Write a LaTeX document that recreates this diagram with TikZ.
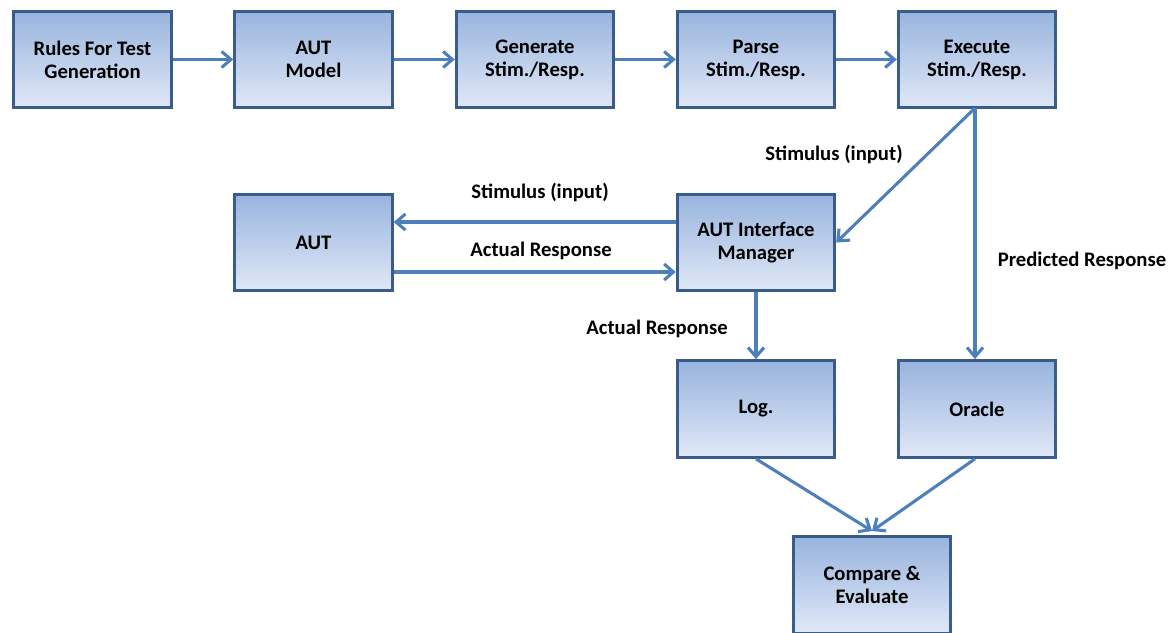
\documentclass[tikz,border=0pt]{standalone}
\usepackage{fontspec}
\setmainfont{Carlito}
\usetikzlibrary{arrows.meta,shadows}
\definecolor{boxtop}{RGB}{152,180,222}
\definecolor{boxbot}{RGB}{224,232,246}
\definecolor{boxline}{RGB}{58,92,138}
\definecolor{flow}{RGB}{76,127,188}
\tikzset{
  stage/.style={draw=boxline, line width=2.3pt, top color=boxtop, bottom color=boxbot,
    minimum width=118pt, minimum height=72.5pt, align=center,
    font=\fontsize{15.5}{17.3}\selectfont\bfseries,
    drop shadow={shadow xshift=1.2pt, shadow yshift=-1.2pt, opacity=0.25}},
  link/.style={draw=flow, line width=2.3pt, -{Straight Barb[length=7pt,width=12pt,line width=2.3pt]}},
  tag/.style={font=\fontsize{15.5}{17}\selectfont\bfseries, inner sep=0pt}
}
\begin{document}
\begin{tikzpicture}[x=0.75pt,y=-0.75pt]
\useasboundingbox (0,0) rectangle (1173,632);
% top row
\node[stage] (rules) at (92.5,59.5) {Rules For Test\\Generation};
\node[stage] (model) at (313.5,59.5) {AUT\\Model};
\node[stage] (gen)   at (535,59.5)  {Generate\\Stim./Resp.};
\node[stage] (parse) at (756,59.5)  {Parse\\Stim./Resp.};
\node[stage] (exec)  at (977,59.5)  {Execute\\Stim./Resp.};
% middle row
\node[stage] (aut) at (313.5,242.5) {AUT};
\node[stage] (aim) at (756,242.5)   {AUT Interface\\Manager};
% lower rows
\node[stage] (log)    at (756,409) {Log.};
\node[stage] (oracle) at (977,409) {Oracle};
\node[stage] (cmp)    at (872,585) {Compare \&\\Evaluate};
% helper levels for the two horizontal links
\coordinate (upper) at (0,222);
\coordinate (lower) at (0,272);
\coordinate (exfoot) at (975,108);
\coordinate (meet) at (872,531);
% pipeline
\draw[link] (rules) -- (model);
\draw[link] (model) -- (gen);
\draw[link] (gen) -- (parse);
\draw[link] (parse) -- (exec);
\draw[link] (exfoot) -- (aim.east);
\draw[link] (exfoot) -- (exfoot |- oracle.north);
\draw[link] (aim.west |- upper) -- (aut.east |- upper);
\draw[link] (aut.east |- lower) -- (aim.west |- lower);
\draw[link] (aim.south) -- (log.north);
\draw[link] (log.south) -- (meet);
\draw[link] (oracle.south -| exfoot) -- (meet);
% labels
\node[tag] (l1) at (834,154) {Stimulus (input)};
\node[tag] (l2) at (540,192) {Stimulus (input)};
\node[tag] (l3) at (541,251) {Actual Response};
\node[tag] (l4) at (1082,261) {Predicted Response};
\node[tag] (l5) at (657,329) {Actual Response};
\end{tikzpicture}
\end{document}
